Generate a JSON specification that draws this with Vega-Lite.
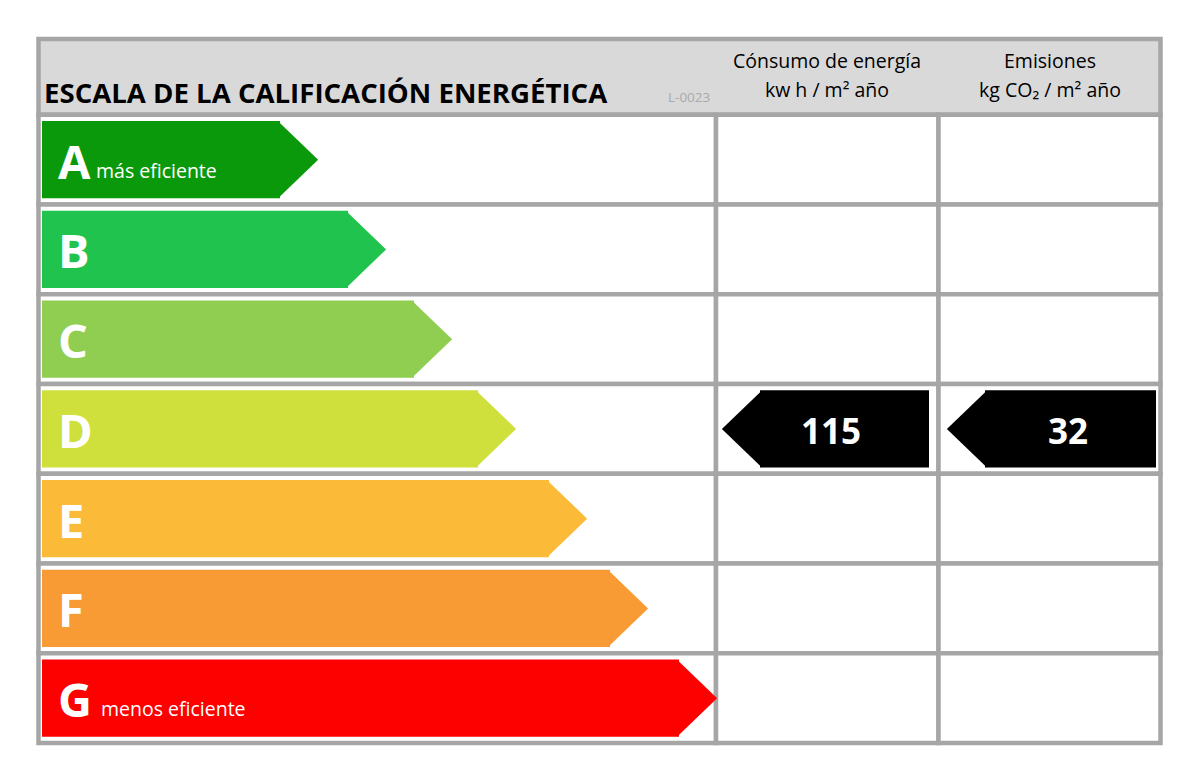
{
  "$schema": "https://vega.github.io/schema/vega-lite/v6.json",
  "width": 1127,
  "height": 718,
  "autosize": "none",
  "padding": {"left": 36, "top": 25, "right": 37, "bottom": 33},
  "background": "white",
  "config": {"view": {"stroke": null}, "text": {"font": "Open Sans"}},
  "datasets": {
    "clases": [
      {"clase": "A", "longitud": 238, "etiqueta": "más eficiente"},
      {"clase": "B", "longitud": 306, "etiqueta": ""},
      {"clase": "C", "longitud": 372, "etiqueta": ""},
      {"clase": "D", "longitud": 436, "etiqueta": ""},
      {"clase": "E", "longitud": 507, "etiqueta": ""},
      {"clase": "F", "longitud": 568, "etiqueta": ""},
      {"clase": "G", "longitud": 637, "etiqueta": "menos eficiente"}
    ],
    "certificado": [
      {"indicador": "consumo", "valor": 115, "clase": "D"},
      {"indicador": "emisiones", "valor": 32, "clase": "D"}
    ],
    "cabecera": [
      {"clase": "cabecera", "titulo": "ESCALA DE LA CALIFICACIÓN ENERGÉTICA", "codigo": "L-0023", "consumo": "Cónsumo de energía\nkw h / m² año", "emisiones": "Emisiones\nkg CO₂ / m² año"}
    ]
  },
  "encoding": {
    "y": {"field": "clase", "type": "nominal", "scale": {"domain": ["cabecera", "A", "B", "C", "D", "E", "F", "G"], "paddingInner": 0, "paddingOuter": 0}, "axis": null}
  },
  "layer": [
    {
      "data": {"name": "cabecera"},
      "mark": {"type": "rect", "fill": "#d9d9d9", "stroke": "#a6a6a6", "strokeWidth": 4.5, "height": {"band": 0.844}, "yOffset": 7, "y2Offset": 7},
      "encoding": {
        "x": {"datum": -3.5, "type": "quantitative", "scale": {"domain": [-6, 1121], "nice": false, "zero": false}, "axis": null},
        "x2": {"datum": 1118.5}
      }
    },
    {
      "data": {"name": "clases"},
      "mark": {"type": "rect", "fill": "white", "stroke": "#a6a6a6", "strokeWidth": 4.5},
      "encoding": {
        "x": {"datum": -3.5, "type": "quantitative", "scale": {"domain": [-6, 1121], "nice": false, "zero": false}, "axis": null},
        "x2": {"datum": 674}
      }
    },
    {
      "data": {"name": "clases"},
      "mark": {"type": "rect", "fill": "white", "stroke": "#a6a6a6", "strokeWidth": 4.5},
      "encoding": {
        "x": {"datum": 674, "type": "quantitative", "scale": {"domain": [-6, 1121], "nice": false, "zero": false}, "axis": null},
        "x2": {"datum": 896.5}
      }
    },
    {
      "data": {"name": "clases"},
      "mark": {"type": "rect", "fill": "white", "stroke": "#a6a6a6", "strokeWidth": 4.5},
      "encoding": {
        "x": {"datum": 896.5, "type": "quantitative", "scale": {"domain": [-6, 1121], "nice": false, "zero": false}, "axis": null},
        "x2": {"datum": 1118.5}
      }
    },
    {
      "data": {"name": "clases"},
      "mark": {"type": "bar", "height": {"band": 0.858}, "cornerRadius": 0},
      "encoding": {
        "x": {"field": "longitud", "type": "quantitative", "stack": null, "scale": {"domain": [-6, 1121], "nice": false, "zero": false}, "axis": null},
        "color": {"field": "clase", "type": "nominal", "scale": {"domain": ["A", "B", "C", "D", "E", "F", "G"], "range": ["#0a990a", "#1fc34d", "#8fce50", "#cfe03d", "#fbbb38", "#f99b35", "#fd0000"]}, "legend": null}
      }
    },
    {
      "data": {"name": "clases"},
      "mark": {"type": "point", "shape": "M -0.05 -1 L 0.99 0 L -0.05 1 Z", "size": 5929, "filled": true, "opacity": 1, "strokeWidth": 0},
      "encoding": {
        "x": {"field": "longitud", "type": "quantitative", "scale": {"domain": [-6, 1121], "nice": false, "zero": false}, "axis": null},
        "color": {"field": "clase", "type": "nominal", "scale": {"domain": ["A", "B", "C", "D", "E", "F", "G"], "range": ["#0a990a", "#1fc34d", "#8fce50", "#cfe03d", "#fbbb38", "#f99b35", "#fd0000"]}, "legend": null}
      }
    },
    {
      "data": {"name": "clases"},
      "mark": {"type": "text", "align": "left", "baseline": "alphabetic", "dy": 19, "fontSize": 47, "fontWeight": "bold", "fill": "white"},
      "encoding": {
        "x": {"datum": 16, "type": "quantitative", "scale": {"domain": [-6, 1121], "nice": false, "zero": false}, "axis": null},
        "text": {"field": "clase"}
      }
    },
    {
      "data": {"name": "clases"},
      "transform": [{"filter": "datum.clase === 'A'"}],
      "mark": {"type": "text", "align": "left", "baseline": "alphabetic", "dy": 18.5, "fontSize": 19.5, "fill": "white"},
      "encoding": {
        "x": {"datum": 54, "type": "quantitative", "scale": {"domain": [-6, 1121], "nice": false, "zero": false}, "axis": null},
        "text": {"field": "etiqueta"}
      }
    },
    {
      "data": {"name": "clases"},
      "transform": [{"filter": "datum.clase === 'G'"}],
      "mark": {"type": "text", "align": "left", "baseline": "alphabetic", "dy": 18, "fontSize": 19.5, "fill": "white"},
      "encoding": {
        "x": {"datum": 59, "type": "quantitative", "scale": {"domain": [-6, 1121], "nice": false, "zero": false}, "axis": null},
        "text": {"field": "etiqueta"}
      }
    },
    {
      "data": {"name": "certificado"},
      "transform": [{"filter": "datum.indicador === 'consumo'"}],
      "mark": {"type": "rect", "fill": "black", "height": {"band": 0.858}},
      "encoding": {
        "x": {"datum": 718, "type": "quantitative", "scale": {"domain": [-6, 1121], "nice": false, "zero": false}, "axis": null},
        "x2": {"datum": 887}
      }
    },
    {
      "data": {"name": "certificado"},
      "transform": [{"filter": "datum.indicador === 'consumo'"}],
      "mark": {"type": "point", "shape": "M 0.05 -1 L -0.99 0 L 0.05 1 Z", "size": 5929, "filled": true, "opacity": 1, "strokeWidth": 0, "fill": "black"},
      "encoding": {
        "x": {"datum": 718, "type": "quantitative", "scale": {"domain": [-6, 1121], "nice": false, "zero": false}, "axis": null}
      }
    },
    {
      "data": {"name": "certificado"},
      "transform": [{"filter": "datum.indicador === 'emisiones'"}],
      "mark": {"type": "rect", "fill": "black", "height": {"band": 0.858}},
      "encoding": {
        "x": {"datum": 943, "type": "quantitative", "scale": {"domain": [-6, 1121], "nice": false, "zero": false}, "axis": null},
        "x2": {"datum": 1114}
      }
    },
    {
      "data": {"name": "certificado"},
      "transform": [{"filter": "datum.indicador === 'emisiones'"}],
      "mark": {"type": "point", "shape": "M 0.05 -1 L -0.99 0 L 0.05 1 Z", "size": 5929, "filled": true, "opacity": 1, "strokeWidth": 0, "fill": "black"},
      "encoding": {
        "x": {"datum": 943, "type": "quantitative", "scale": {"domain": [-6, 1121], "nice": false, "zero": false}, "axis": null}
      }
    },
    {
      "data": {"name": "certificado"},
      "transform": [{"filter": "datum.indicador === 'consumo'"}],
      "mark": {"type": "text", "align": "center", "baseline": "alphabetic", "dy": 15, "fontSize": 35, "fontWeight": "bold", "fill": "white"},
      "encoding": {
        "x": {"datum": 789, "type": "quantitative", "scale": {"domain": [-6, 1121], "nice": false, "zero": false}, "axis": null},
        "text": {"field": "valor"}
      }
    },
    {
      "data": {"name": "certificado"},
      "transform": [{"filter": "datum.indicador === 'emisiones'"}],
      "mark": {"type": "text", "align": "center", "baseline": "alphabetic", "dy": 15, "fontSize": 35, "fontWeight": "bold", "fill": "white"},
      "encoding": {
        "x": {"datum": 1026, "type": "quantitative", "scale": {"domain": [-6, 1121], "nice": false, "zero": false}, "axis": null},
        "text": {"field": "valor"}
      }
    },
    {
      "data": {"name": "cabecera"},
      "mark": {"type": "text", "align": "left", "baseline": "alphabetic", "dy": 33, "fontSize": 27.6, "fontWeight": "bold", "fill": "black"},
      "encoding": {
        "x": {"datum": 2, "type": "quantitative", "scale": {"domain": [-6, 1121], "nice": false, "zero": false}, "axis": null},
        "text": {"field": "titulo"}
      }
    },
    {
      "data": {"name": "cabecera"},
      "mark": {"type": "text", "align": "left", "baseline": "alphabetic", "dy": 32, "fontSize": 13.5, "fill": "#aaaaaa"},
      "encoding": {
        "x": {"datum": 626, "type": "quantitative", "scale": {"domain": [-6, 1121], "nice": false, "zero": false}, "axis": null},
        "text": {"field": "codigo"}
      }
    },
    {
      "data": {"name": "cabecera"},
      "mark": {"type": "text", "align": "center", "baseline": "alphabetic", "dy": -2, "fontSize": 19.5, "lineHeight": 29, "lineBreak": "\n", "fill": "black"},
      "encoding": {
        "x": {"datum": 785, "type": "quantitative", "scale": {"domain": [-6, 1121], "nice": false, "zero": false}, "axis": null},
        "text": {"field": "consumo"}
      }
    },
    {
      "data": {"name": "cabecera"},
      "mark": {"type": "text", "align": "center", "baseline": "alphabetic", "dy": -2, "fontSize": 19.5, "lineHeight": 29, "lineBreak": "\n", "fill": "black"},
      "encoding": {
        "x": {"datum": 1008, "type": "quantitative", "scale": {"domain": [-6, 1121], "nice": false, "zero": false}, "axis": null},
        "text": {"field": "emisiones"}
      }
    }
  ]
}
